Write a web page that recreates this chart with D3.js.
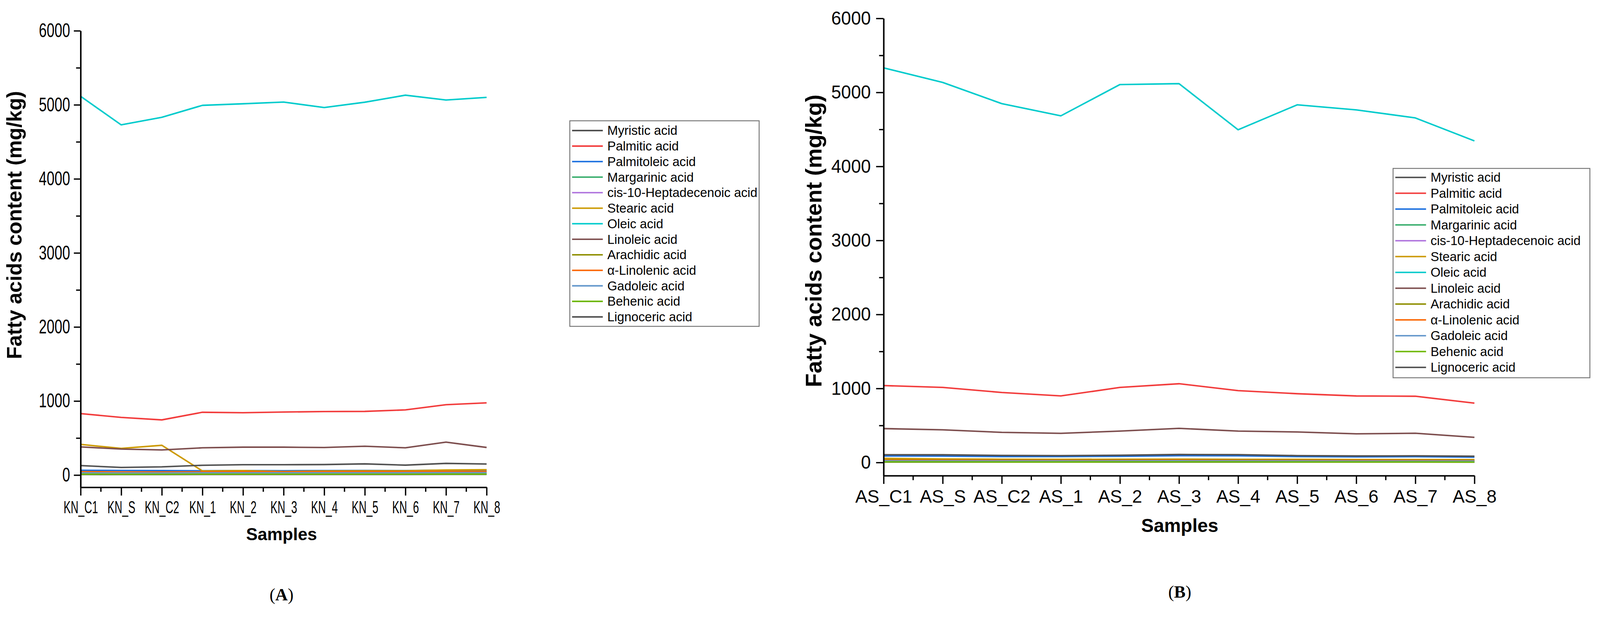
<!DOCTYPE html>
<html>
<head>
<meta charset="utf-8">
<script src="https://cdn.jsdelivr.net/npm/d3@7"></script>
<style>
  html, body { margin: 0; padding: 0; background: #fff; overflow: hidden; }
  svg { display: block; }
</style>
</head>
<body>
<div id="chart-container"></div>
<script>
// Sample names on the x axes
var knSamples = ["KN_C1", "KN_S", "KN_C2", "KN_1", "KN_2", "KN_3", "KN_4", "KN_5", "KN_6", "KN_7", "KN_8"];
var asSamples = ["AS_C1", "AS_S", "AS_C2", "AS_1", "AS_2", "AS_3", "AS_4", "AS_5", "AS_6", "AS_7", "AS_8"];

// Fatty acids, in legend order
var acids = ["Myristic acid", "Palmitic acid", "Palmitoleic acid", "Margarinic acid",
    "cis-10-Heptadecenoic acid", "Stearic acid", "Oleic acid", "Linoleic acid",
    "Arachidic acid", "\u03b1-Linolenic acid", "Gadoleic acid", "Behenic acid", "Lignoceric acid"];

// Y tick values (mg/kg)
var yTicks = [0, 1000, 2000, 3000, 4000, 5000, 6000];
var yMinorTicks = [500, 1500, 2500, 3500, 4500, 5500];

// Panel A (KN samples), mg/kg
var knMyristic      = [8, 7, 7, 8, 8, 8, 8, 8, 8, 9, 9];
var knPalmitic      = [830, 779, 745, 848, 842, 851, 858, 860, 880, 950, 975];
var knPalmitoleic   = [64, 62, 60, 58, 60, 58, 60, 62, 60, 66, 64];
var knMargarinic    = [12, 11, 11, 12, 12, 12, 12, 12, 12, 13, 13];
var knHeptadecenoic = [20, 19, 19, 20, 20, 20, 20, 20, 20, 21, 21];
var knStearic       = [414, 360, 402, 55, 60, 48, 55, 58, 58, 68, 72];
var knOleic         = [5115, 4729, 4831, 4993, 5014, 5037, 4963, 5035, 5130, 5065, 5100];
var knLinoleic      = [380, 351, 339, 368, 377, 377, 372, 389, 368, 445, 373];
var knArachidic     = [40, 38, 38, 40, 40, 40, 41, 41, 41, 43, 43];
var knLinolenic     = [46, 42, 42, 44, 45, 45, 45, 46, 46, 48, 47];
var knGadoleic      = [30, 28, 28, 30, 30, 30, 30, 30, 31, 32, 31];
var knBehenic       = [12, 11, 11, 12, 12, 12, 12, 12, 12, 13, 13];
var knLignoceric    = [128, 103, 111, 132, 140, 140, 142, 151, 134, 158, 149];

// Panel B (AS samples), mg/kg
var asMyristic      = [6, 6, 6, 6, 6, 6, 6, 6, 6, 6, 5];
var asPalmitic      = [1039, 1014, 946, 899, 1014, 1064, 971, 929, 899, 895, 802];
var asPalmitoleic   = [88, 86, 80, 80, 84, 92, 90, 80, 76, 78, 72];
var asMargarinic    = [12, 12, 11, 11, 12, 12, 12, 11, 11, 11, 10];
var asHeptadecenoic = [18, 18, 17, 17, 18, 18, 18, 17, 17, 17, 16];
var asStearic       = [55, 48, 44, 42, 44, 45, 42, 42, 40, 40, 38];
var asOleic         = [5332, 5135, 4848, 4683, 5106, 5118, 4495, 4832, 4764, 4655, 4345];
var asLinoleic      = [458, 441, 407, 394, 424, 461, 424, 412, 387, 395, 340];
var asArachidic     = [36, 35, 33, 32, 34, 35, 34, 33, 32, 32, 30];
var asLinolenic     = [30, 29, 27, 26, 28, 30, 28, 27, 26, 26, 24];
var asGadoleic      = [22, 21, 20, 20, 21, 22, 21, 20, 19, 19, 18];
var asBehenic       = [8, 8, 7, 7, 8, 8, 8, 7, 7, 7, 6];
var asLignoceric    = [105, 104, 95, 93, 98, 108, 106, 93, 88, 90, 84];

var knSeries = [knMyristic, knPalmitic, knPalmitoleic, knMargarinic, knHeptadecenoic, knStearic,
    knOleic, knLinoleic, knArachidic, knLinolenic, knGadoleic, knBehenic, knLignoceric];
var asSeries = [asMyristic, asPalmitic, asPalmitoleic, asMargarinic, asHeptadecenoic, asStearic,
    asOleic, asLinoleic, asArachidic, asLinolenic, asGadoleic, asBehenic, asLignoceric];

// Origin-style line colours
var colors = ["#515151", "#F23C3C", "#1A6FDF", "#37AD6B", "#B177DE", "#CC9900", "#00CBCC",
    "#7D4E4E", "#8E8E00", "#FB6501", "#6699CC", "#6FB802", "#515151"];

var W = 4268, H = 1622;
var textFont = "'Liberation Sans', Arial, sans-serif";

// fit the drawing to the window width, top aligned
var svg = d3.select("#chart-container")
    .append("svg")
    .attr("viewBox", "0 0 " + W + " " + H)
    .attr("preserveAspectRatio", "xMidYMin meet")
    .style("width", "100vw")
    .style("height", "100vh");

svg.append("rect").attr("width", W).attr("height", H).attr("fill", "#fff");

// squeeze tick labels horizontally (the figure uses a narrow face)
function condense(sel, k) {
    sel.each(function() {
        var t = d3.select(this);
        var x = +t.attr("x") || 0;
        t.attr("x", x / k).attr("transform", "scale(" + k + ",1)");
    });
}

function drawPanel(p) {
    var g = svg.append("g");

    var x = d3.scalePoint().domain(p.samples).range([p.x0, p.x1]).padding(0);
    var y = d3.scaleLinear().domain([p.yMin, 6000]).range([p.yBottom, p.yTop]);

    // lines
    var line = d3.line()
        .x(function(d, i) { return x(p.samples[i]); })
        .y(function(d) { return y(d); });

    p.series.forEach(function(s, k) {
        g.append("path")
            .datum(s)
            .attr("d", line)
            .attr("fill", "none")
            .attr("stroke", colors[k])
            .attr("stroke-width", 4)
            .attr("stroke-linejoin", "round");
    });

    // y axis: minor ticks, then labelled major ticks
    var yMinor = g.append("g")
        .attr("transform", "translate(" + p.x0 + ",0)")
        .call(d3.axisLeft(y).tickValues(yMinorTicks).tickSize(12).tickSizeOuter(0).tickFormat(""));
    yMinor.select(".domain").remove();

    var yAxis = g.append("g")
        .attr("transform", "translate(" + p.x0 + ",0)")
        .call(d3.axisLeft(y).tickValues(yTicks).tickSize(p.yTick).tickSizeOuter(0)
            .tickPadding(p.yPad).tickFormat(d3.format("d")));

    // x axis with minor ticks between samples
    var xAxis = g.append("g")
        .attr("transform", "translate(0," + p.yBottom + ")")
        .call(d3.axisBottom(x).tickSize(22).tickSizeOuter(0).tickPadding(p.xPad));

    var mids = p.samples.slice(1).map(function(s, i) {
        return (x(p.samples[i]) + x(s)) / 2;
    });
    g.append("g").selectAll("line")
        .data(mids)
        .enter()
        .append("line")
        .attr("x1", function(d) { return d; })
        .attr("x2", function(d) { return d; })
        .attr("y1", p.yBottom)
        .attr("y2", p.yBottom + 12)
        .attr("stroke", "#000")
        .attr("stroke-width", 3.5);

    [yMinor, yAxis, xAxis].forEach(function(a) {
        a.select(".domain").attr("stroke-width", 4);
        a.selectAll(".tick line").attr("stroke-width", 3.5);
        a.selectAll("text")
            .attr("font-family", textFont)
            .attr("fill", "#000");
    });
    yAxis.selectAll("text").attr("font-size", p.yTickSize).call(condense, p.yCond);
    xAxis.selectAll("text").attr("font-size", p.xTickSize).call(condense, p.xCond);

    // axis titles
    g.append("text")
        .attr("transform", "translate(" + p.yTitleX + "," + p.yTitleY + ") rotate(-90)")
        .attr("text-anchor", "middle")
        .attr("font-family", textFont)
        .attr("font-weight", "bold")
        .attr("font-size", p.titleSize)
        .text("Fatty acids content (mg/kg)");

    g.append("text")
        .attr("x", p.labelX)
        .attr("y", p.xTitleY)
        .attr("text-anchor", "middle")
        .attr("font-family", textFont)
        .attr("font-weight", "bold")
        .attr("font-size", p.xTitleSize)
        .text("Samples");

    // panel letter
    var letter = g.append("text")
        .attr("x", p.labelX)
        .attr("y", p.letterY)
        .attr("text-anchor", "middle")
        .attr("font-family", "'Liberation Serif', 'Times New Roman', serif")
        .attr("font-size", 46);
    letter.append("tspan").text("(");
    letter.append("tspan").attr("font-weight", "bold").text(p.letter);
    letter.append("tspan").text(")");

    // legend
    var lg = g.append("g").attr("transform", "translate(" + p.legX + "," + p.legY + ")");
    lg.append("rect")
        .attr("width", p.legW)
        .attr("height", p.legH)
        .attr("fill", "#fff")
        .attr("stroke", "#777")
        .attr("stroke-width", 2.5);
    var rows = lg.selectAll("g.row")
        .data(acids)
        .enter()
        .append("g")
        .attr("class", "row")
        .attr("transform", function(d, i) { return "translate(0," + (p.legRow0 + i * p.legStep) + ")"; });
    rows.append("line")
        .attr("x1", 6).attr("x2", 88)
        .attr("stroke", function(d, i) { return colors[i]; })
        .attr("stroke-width", 4);
    rows.append("text")
        .attr("x", 100)
        .attr("dy", "0.35em")
        .attr("font-family", textFont)
        .attr("font-size", p.legFont)
        .text(function(d) { return d; });
}

drawPanel({
    samples: knSamples, series: knSeries, letter: "A",
    x0: 215, x1: 1298, yTop: 82, yBottom: 1299, yMin: -165,
    yTick: 18, yTickSize: 52, yCond: 0.72, yPad: 10, xTickSize: 46, xCond: 0.62, xPad: 14,
    titleSize: 55, xTitleSize: 46,
    yTitleX: 57, yTitleY: 600, labelX: 751, xTitleY: 1440, letterY: 1601,
    legX: 1520, legY: 322, legW: 505, legH: 548, legRow0: 26, legStep: 41.4, legFont: 34
});

drawPanel({
    samples: asSamples, series: asSeries, letter: "B",
    x0: 2357, x1: 3933, yTop: 49, yBottom: 1268, yMin: -178,
    yTick: 20, yTickSize: 50, yCond: 0.95, yPad: 14, xTickSize: 48, xCond: 1, xPad: 16,
    titleSize: 60, xTitleSize: 50,
    yTitleX: 2191, yTitleY: 642, labelX: 3147, xTitleY: 1418, letterY: 1593,
    legX: 3716, legY: 449, legW: 525, legH: 558, legRow0: 24, legStep: 42.2, legFont: 34
});
</script>
</body>
</html>
